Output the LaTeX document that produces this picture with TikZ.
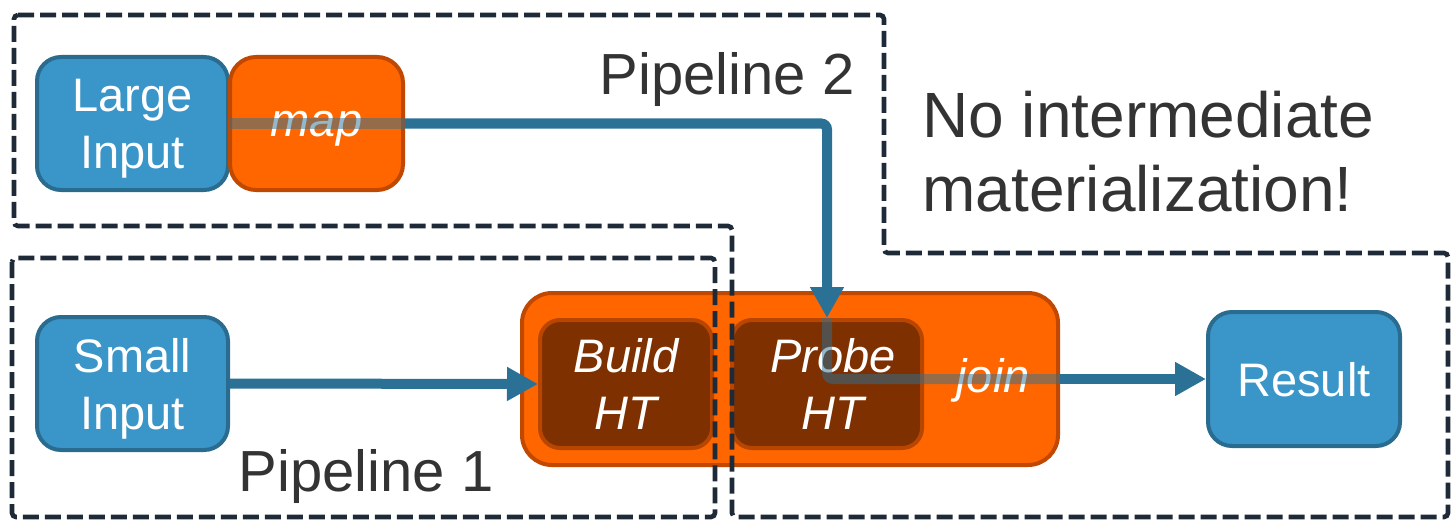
\documentclass[tikz,border=0pt]{standalone}
\usepackage{fontspec}
\setmainfont{Liberation Sans}
\usetikzlibrary{arrows.meta}
\definecolor{blueF}{HTML}{3A96C8}
\definecolor{blueB}{HTML}{2A6C8F}
\definecolor{flowC}{HTML}{2B7196}
\definecolor{orangeF}{HTML}{FF6600}
\definecolor{orangeB}{HTML}{C04800}
\definecolor{brownF}{HTML}{7F3000}
\definecolor{brownB}{HTML}{B84600}
\definecolor{dashC}{HTML}{1E2A38}
\definecolor{labelC}{HTML}{333333}
\begin{document}
\begin{tikzpicture}[x=0.5pt,y=-0.5pt,
  boxtext/.style={align=center, text=white, inner sep=0pt, text depth=0pt,
    font=\fontsize{23.5}{28.5}\selectfont},
  datablk/.style={boxtext, draw=blueB, fill=blueF, line width=2pt, rounded corners=12pt},
  opblk/.style={boxtext, draw=orangeB, fill=orangeF, line width=2pt, rounded corners=13pt,
    font=\fontsize{23.5}{28.5}\selectfont\itshape},
  htblk/.style={boxtext, draw=brownB, fill=brownF, line width=2pt, rounded corners=10pt,
    font=\fontsize{23.5}{28.5}\selectfont\itshape},
  flow/.style={draw=flowC, line width=5pt, rounded corners=3pt},
  seethrough/.style={flow, draw opacity=0.5},
  tip/.style={-{Triangle[length=15.5pt,width=16pt]}},
  pipebox/.style={draw=dashC, line width=2.3pt, dash pattern=on 8pt off 3pt, rounded corners=2pt},
  pipelabel/.style={text=labelC, inner sep=0pt, font=\fontsize{29}{34}\selectfont}
]
\useasboundingbox (0,0) rectangle (1455,519);

% operators and data sources
\node[datablk, minimum width=95.5pt, minimum height=66.5pt] (large) at (132.5,123.5) {Large\\Input};
\node[opblk, minimum width=86.5pt, minimum height=66.5pt] (map) at (316.5,123.5) {map};
\node[datablk, minimum width=95.5pt, minimum height=66.5pt] (small) at (132.5,383.5) {Small\\Input};
\node[opblk, minimum width=268pt, minimum height=86pt, rounded corners=15pt] (join) at (790,379) {};
\node[htblk, minimum width=86pt, minimum height=64pt] (build) at (626,384) {Build\\HT};
\node[htblk, minimum width=95pt, minimum height=64pt] (probe) at (827,384) {\hspace*{6pt}Probe\\\hspace*{6pt}HT};
\node[text=white, inner sep=0pt, anchor=base, font=\fontsize{23.5}{28.5}\selectfont\itshape] (joinlabel) at (993,392) {join};
\node[datablk, minimum width=96pt, minimum height=67pt] (result) at (1304,379) {Result};

% pipeline boundaries
\draw[pipebox] (12,258) rectangle (715,517);
\draw[pipebox] (14,15) -- (884,15) -- (884,253) -- (1448,253) -- (1448,517)
  -- (732,517) -- (732,226) -- (14,226) -- cycle;

\node[pipelabel, anchor=base] (p2) at (727,95) {Pipeline 2};
\node[pipelabel, anchor=base] (p1) at (366,491) {Pipeline 1};
\node[text=labelC, inner sep=0pt, anchor=west, align=left,
  font=\fontsize{32}{37}\selectfont] (note) at (922,152) {No intermediate\\materialization!};

% data flow
\draw[seethrough] (large.east) -- (map.east);
\draw[flow, tip] (map.east) -| (probe.north);
\draw[seethrough] (probe.north) |- (join.east);
\draw[flow, tip] (join.east) -- (result.west);
\draw[flow, tip] (small.east) -- (build.west);
\end{tikzpicture}
\end{document}
